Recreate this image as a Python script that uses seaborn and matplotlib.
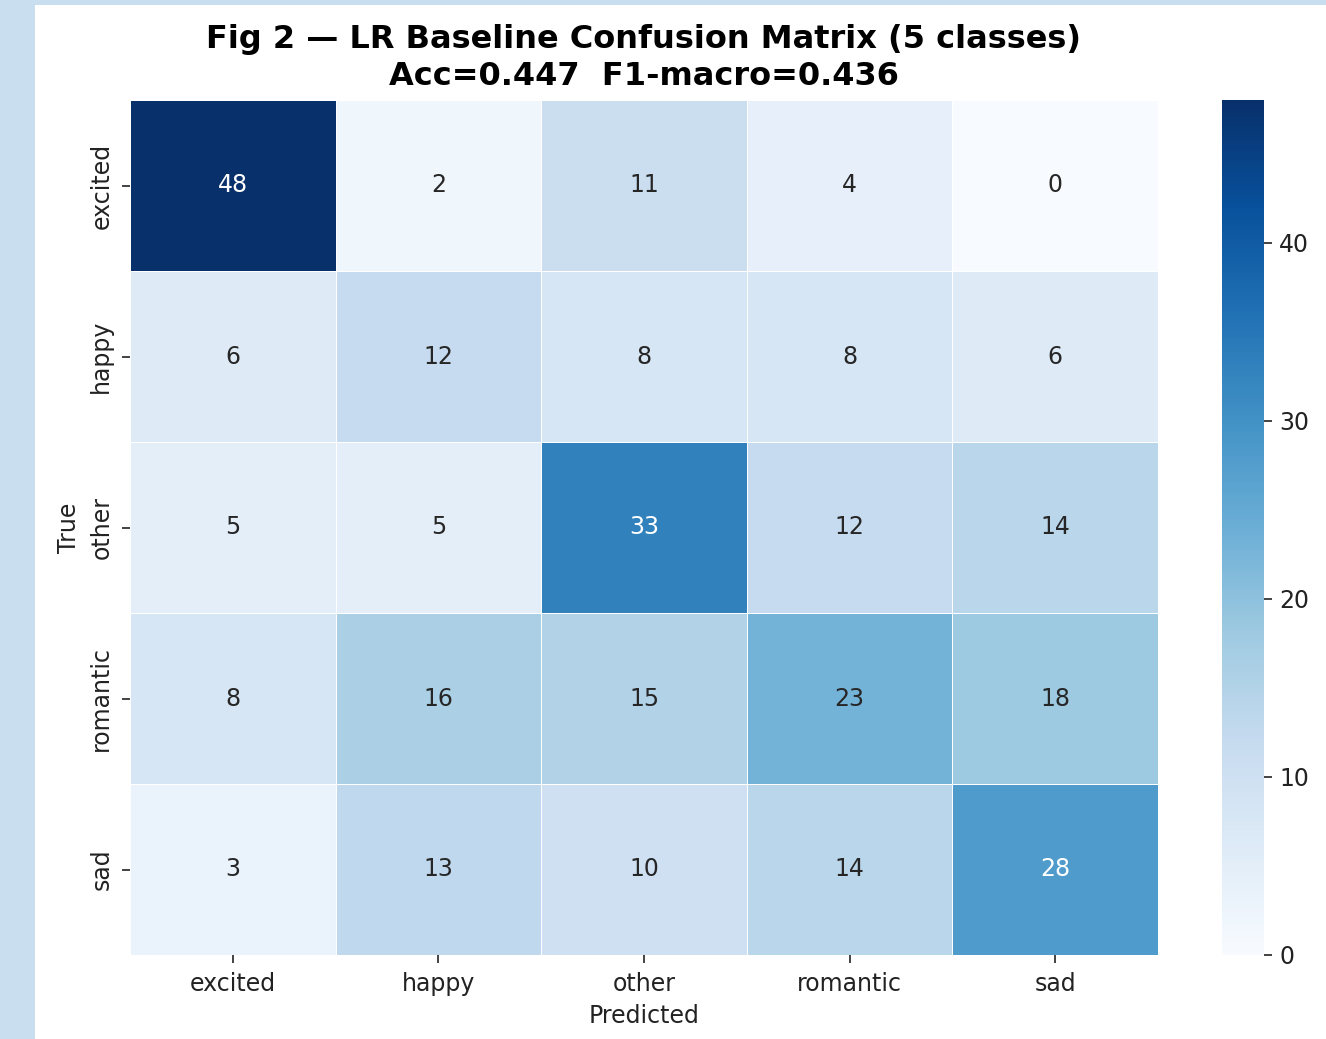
import numpy as np
import matplotlib
matplotlib.use("Agg")
import matplotlib.pyplot as plt
import seaborn as sns
from matplotlib.patches import Rectangle

classes = ["excited", "happy", "other", "romantic", "sad"]
row_excited = [48, 2, 11, 4, 0]
row_happy = [6, 12, 8, 8, 6]
row_other = [5, 5, 33, 12, 14]
row_romantic = [8, 16, 15, 23, 18]
row_sad = [3, 13, 10, 14, 28]
cm = np.array([row_excited, row_happy, row_other, row_romantic, row_sad])

plt.rcParams['font.family'] = ['DejaVu Sans']
plt.rcParams['text.color'] = '#222222'
plt.rcParams['xtick.color'] = '#222222'
plt.rcParams['ytick.color'] = '#222222'
plt.rcParams['axes.labelcolor'] = '#222222'

W, H = 1326, 1039
fig = plt.figure(figsize=(W / 100, H / 100), dpi=100)
fig.patch.set_facecolor("#c9dff0")
fig.patches.append(Rectangle((35 / W, 0), 1 - 35 / W, 1 - 5 / H, transform=fig.transFigure,
                             facecolor="white", edgecolor="none", zorder=-1))

def fx(x):
    return x / W

def fy(y):
    return 1 - y / H

ax = fig.add_axes([fx(130), fy(955), fx(1158) - fx(130), fy(100) - fy(955)])
cax = fig.add_axes([fx(1222), fy(955), fx(1264) - fx(1222), fy(100) - fy(955)])

sns.heatmap(cm, ax=ax, cbar_ax=cax, cmap="Blues", annot=True, fmt="d",
            linewidths=0.7, linecolor="white", vmin=0,
            xticklabels=classes, yticklabels=classes,
            annot_kws={"fontsize": 17})

ax.set_title("Fig 2 — LR Baseline Confusion Matrix (5 classes)\nAcc=0.447  F1-macro=0.436",
             fontsize=23, fontweight="bold", pad=11, linespacing=1.25, color="black")
ax.set_xlabel("Predicted", fontsize=17, labelpad=6)
ax.set_ylabel("True", fontsize=17, labelpad=6)
ax.tick_params(axis="both", labelsize=17, length=6, width=1.2, bottom=True, left=True, pad=6)
ax.tick_params(axis="y", rotation=90)
for t in ax.get_yticklabels():
    t.set_va("center")
cax.tick_params(labelsize=17, length=6, width=1.2, right=True, pad=5)
cb = ax.collections[0].colorbar
if cb is not None:
    cb.outline.set_visible(False)

fig.savefig("out.png", dpi=100, facecolor=fig.get_facecolor())
